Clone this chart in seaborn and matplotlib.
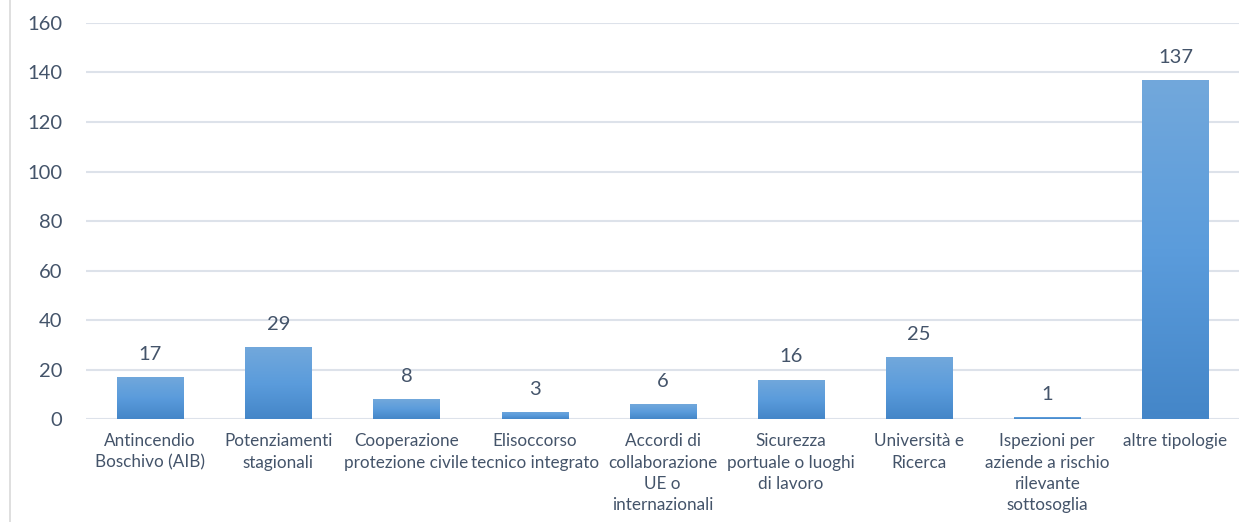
import numpy as np
import matplotlib
matplotlib.use("Agg")
import matplotlib.pyplot as plt
import seaborn as sns
import pandas as pd
from matplotlib.colors import LinearSegmentedColormap

categories = [
    "Antincendio\nBoschivo (AIB)",
    "Potenziamenti\nstagionali",
    "Cooperazione\nprotezione civile",
    "Elisoccorso\ntecnico integrato",
    "Accordi di\ncollaborazione\nUE o\ninternazionali",
    "Sicurezza\nportuale o luoghi\ndi lavoro",
    "Università e\nRicerca",
    "Ispezioni per\naziende a rischio\nrilevante\nsottosoglia",
    "altre tipologie",
]
values = [17, 29, 8, 3, 6, 16, 25, 1, 137]
yticks = [0, 20, 40, 60, 80, 100, 120, 140, 160]

sns.set_style("white")
plt.rcParams['font.family'] = ['Lato', 'DejaVu Sans']
text_color = "#44546A"

fig = plt.figure(figsize=(12.52, 5.22), dpi=100)
ax = fig.add_axes([0.0687, 0.197, 0.9213, 0.759])

df = pd.DataFrame({"cat": categories, "val": values})
sns.barplot(data=df, x="cat", y="val", color="#5B9BD5", width=0.515, ax=ax, zorder=3)

ax.set_ylim(0, 160)
ax.set_xlim(-0.5, len(categories) - 0.5)
ax.set_yticks(yticks)
ax.set_yticklabels([str(t) for t in yticks], fontsize=14.5, color=text_color)
ax.set_xlabel("")
ax.set_ylabel("")
ax.tick_params(axis="x", labelsize=12.3, labelcolor=text_color, length=0, pad=10)
ax.tick_params(axis="y", length=0, pad=17)
for lab in ax.get_xticklabels():
    lab.set_linespacing(1.42)

for y in yticks:
    ax.axhline(y, color="#DDE2EA", lw=1.5, zorder=1)
for s in ax.spines.values():
    s.set_visible(False)

cmap = LinearSegmentedColormap.from_list("g", ["#4486C8", "#5B9CDC", "#72A8DB"])
grad = np.linspace(0, 1, 256).reshape(-1, 1)
for patch, v in zip(ax.patches, values):
    x0, y0 = patch.get_x(), patch.get_y()
    w, h = patch.get_width(), patch.get_height()
    patch.set_facecolor("none")
    patch.set_edgecolor("none")
    im = ax.imshow(grad, cmap=cmap, origin="lower", aspect="auto",
                   extent=[x0, x0 + w, y0, y0 + h], zorder=3)
    im.set_clip_path(patch)
    ax.text(x0 + w / 2, v + 6.9, str(v), ha="center", va="baseline",
            fontsize=14.5, color=text_color, zorder=4)

ax.set_xlim(-0.5, len(categories) - 0.5)
ax.set_ylim(0, 160)

fig.add_artist(plt.Line2D([9.5 / 1252, 9.5 / 1252], [0, 1], color="#D9D9D9", lw=1.2))

fig.savefig("out.png", dpi=100)
